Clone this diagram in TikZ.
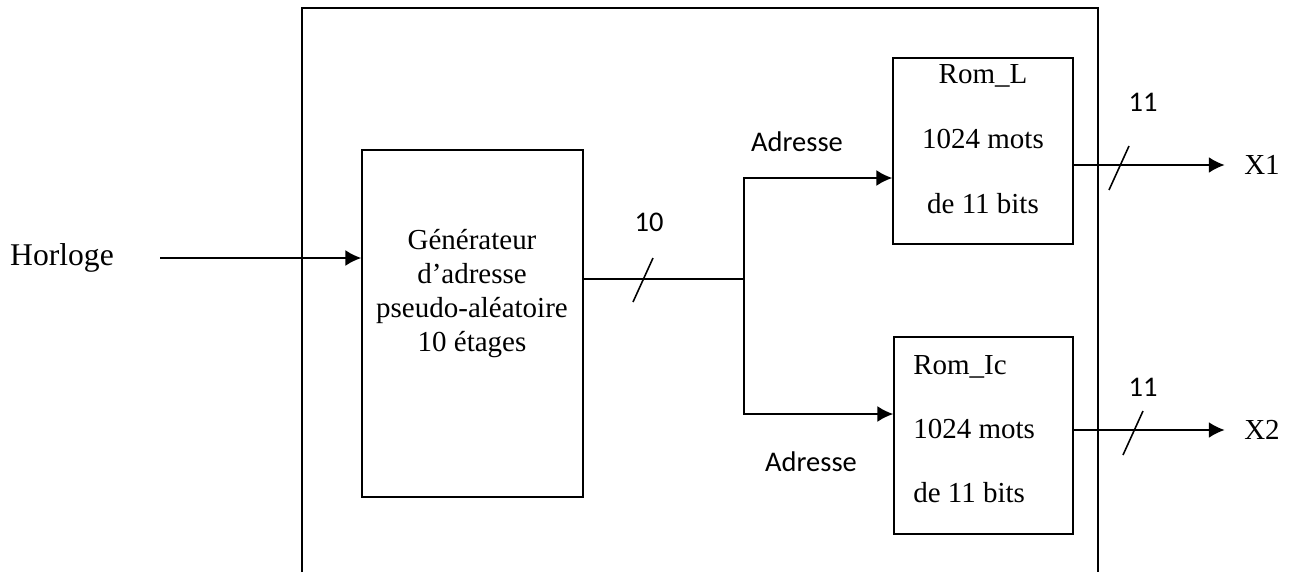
\documentclass[tikz,border=0pt]{standalone}
\usepackage{fontspec}
\setmainfont{Liberation Serif}
\newfontfamily\calib{Carlito}
\usetikzlibrary{arrows.meta}
\tikzset{
    block/.style = {draw, rectangle, line width=0.9pt, inner sep=0pt},
    txt/.style = {font=\fontsize{16.5}{19.35}\selectfont, inner sep=0pt},
    lbl/.style = {font=\calib\fontsize{16.2}{19}\selectfont, inner sep=0pt},
    arrow/.style = {draw, line width=0.9pt, -{Latex[length=9pt,width=9pt]}},
    wire/.style = {draw, line width=0.9pt}
}
\newcommand{\busmark}[1]{\draw[wire] (#1) ++(-10,22) -- ++(20,-44);}

\begin{document}
\begin{tikzpicture}[x=0.02cm,y=-0.02cm]
            \useasboundingbox (0,0) rectangle (1295,572);
            % cadre du circuit (ouvert en bas)
            \draw[wire] (302,572) -- (302,8) -- (1098,8) -- (1098,572);
            \node[block, minimum width=4.42cm, minimum height=6.94cm] (gen) at (472.5,323.5) {};
            \node[txt, align=center] (gentxt) at (472,294) {G\'en\'erateur\\d'adresse\\pseudo-al\'eatoire\\10 \'etages};
            \node[block, minimum width=3.6cm, minimum height=3.72cm] (romL) at (983,151) {};
            \node[txt, align=center, font=\fontsize{16.5}{37}\selectfont] (romLtxt) at (983,139) {Rom\_L\\1024 mots\\de 11 bits};
            \node[block, minimum width=3.58cm, minimum height=3.94cm] (romIc) at (983.5,435.5) {};
            \node[txt, align=left, anchor=west, font=\fontsize{16.5}{36.4}\selectfont] (romIctxt) at (913,429) {Rom\_Ic\\1024 mots\\de 11 bits};
            \node[txt, font=\fontsize{18}{21}\selectfont] (clk) at (62,258) {Horloge};
            \node[txt, inner xsep=11pt] (x1) at (1262,165) {X1};
            \node[txt, inner xsep=11pt] (x2) at (1262,430) {X2};
            \node[lbl] (adr1) at (797,142) {Adresse};
            \node[lbl] (adr2) at (811,462) {Adresse};
            \node[lbl] (n10) at (649,222) {10};
            \node[lbl] (n11a) at (1143,102) {11};
            \node[lbl] (n11b) at (1143,387) {11};
            \coordinate (clkin) at (160,258);
            \coordinate (junc) at (744,279);
            \draw[arrow] (clkin) -- (gen.west |- clkin);
            \draw[wire] (gen.east |- junc) -- (junc);
            \draw[arrow] (junc) |- (romL.west |- 0,178);
            \draw[arrow] (junc) |- (romIc.west |- 0,414);
            \draw[arrow] (romL.east |- x1) -- (x1.west);
            \draw[arrow] (romIc.east |- x2) -- (x2.west);
            \busmark{643,280}
            \busmark{1119,168}
            \busmark{1133,433}
        \end{tikzpicture}
\end{document}
